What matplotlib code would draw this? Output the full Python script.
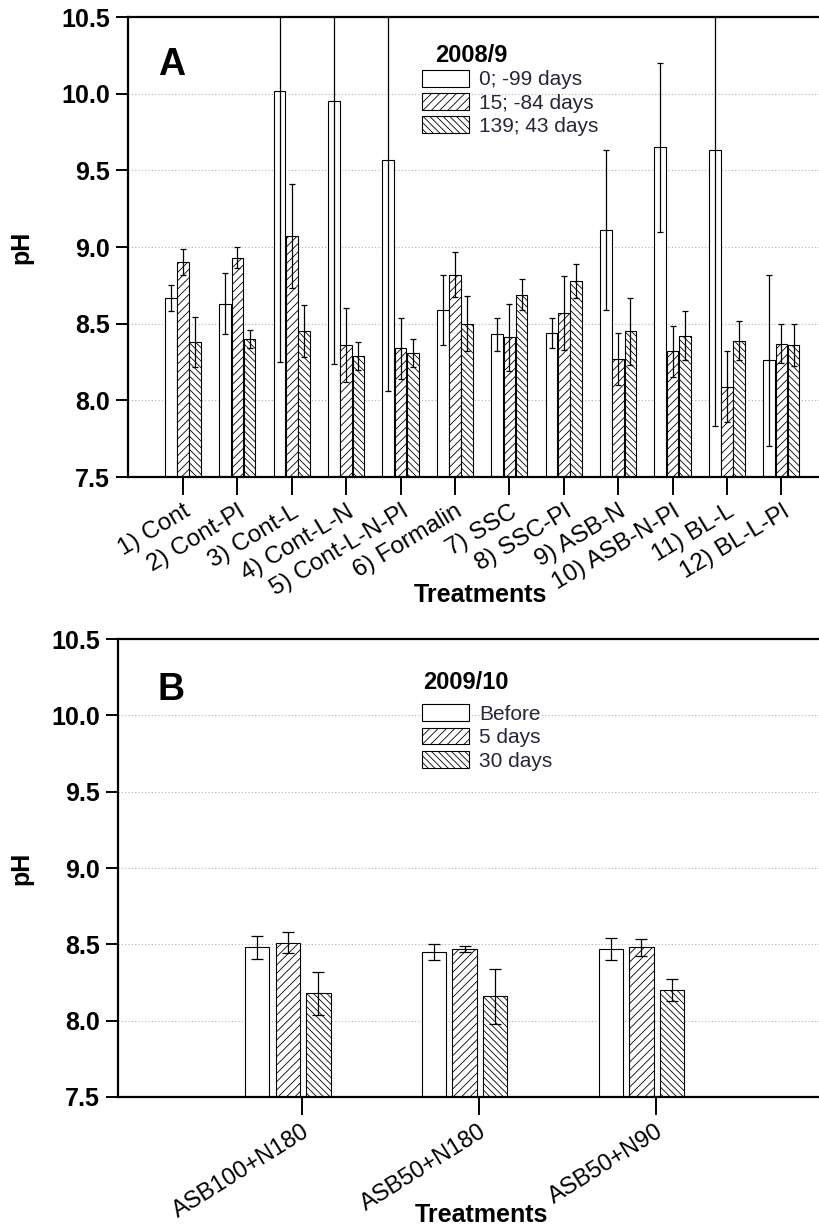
import numpy as np
import matplotlib
matplotlib.use('Agg')
import matplotlib.pyplot as plt
from matplotlib.patches import Patch

plt.rcParams['font.family'] = ['Liberation Sans', 'DejaVu Sans']
plt.rcParams['hatch.linewidth'] = 0.6

# panel A data (2008/9)
treat_a = ['1) Cont', '2) Cont-Pl', '3) Cont-L', '4) Cont-L-N', '5) Cont-L-N-Pl', '6) Formalin',
           '7) SSC', '8) SSC-Pl', '9) ASB-N', '10) ASB-N-Pl', '11) BL-L', '12) BL-L-Pl']
ph_0 = [8.67, 8.63, 10.02, 9.95, 9.57, 8.59, 8.43, 8.44, 9.11, 9.65, 9.63, 8.26]
err_0 = [0.085, 0.20, 1.77, 1.71, 1.51, 0.23, 0.11, 0.10, 0.52, 0.55, 1.80, 0.56]
ph_15 = [8.90, 8.93, 9.07, 8.36, 8.34, 8.82, 8.41, 8.57, 8.27, 8.32, 8.09, 8.37]
err_15 = [0.085, 0.07, 0.34, 0.24, 0.20, 0.145, 0.22, 0.24, 0.17, 0.165, 0.23, 0.125]
ph_139 = [8.38, 8.40, 8.45, 8.29, 8.31, 8.50, 8.69, 8.78, 8.45, 8.42, 8.39, 8.36]
err_139 = [0.165, 0.06, 0.17, 0.09, 0.09, 0.18, 0.10, 0.11, 0.22, 0.16, 0.13, 0.135]
labels_a = ['0; -99 days', '15; -84 days', '139; 43 days']

# panel B data (2009/10)
treat_b = ['ASB100+N180', 'ASB50+N180', 'ASB50+N90']
ph_before = [8.48, 8.45, 8.47]
err_before = [0.074, 0.05, 0.07]
ph_5 = [8.51, 8.47, 8.48]
err_5 = [0.07, 0.02, 0.057]
ph_30 = [8.18, 8.16, 8.20]
err_30 = [0.14, 0.18, 0.07]
labels_b = ['Before', '5 days', '30 days']

hatches = ['', '////', '\\\\\\\\\\']

fig = plt.figure(figsize=(8.2, 12.27), dpi=100)
ax1 = fig.add_axes([128/820, 1 - 477/1227, 692/820, 460/1227])
ax2 = fig.add_axes([118/820, 1 - 1097/1227, 702/820, 458/1227])


def style_axes(ax):
    ax.set_ylim(7.5, 10.5)
    ax.set_yticks([7.5, 8.0, 8.5, 9.0, 9.5, 10.0, 10.5])
    ax.set_yticklabels(['%.1f' % v for v in [7.5, 8.0, 8.5, 9.0, 9.5, 10.0, 10.5]],
                       fontweight='bold', fontsize=18)
    ax.spines['right'].set_visible(False)
    for s in ['left', 'top', 'bottom']:
        ax.spines[s].set_linewidth(1.6)
    ax.tick_params(axis='y', direction='out', length=9, width=1.4, pad=4)
    ax.tick_params(axis='x', direction='out', length=13, width=1.4, pad=4)
    ax.set_axisbelow(True)
    for g in [8.0, 8.5, 9.0, 9.5, 10.0]:
        ax.axhline(g, color='#b0b0b0', linestyle=(0, (1, 2)), linewidth=0.8, zorder=0)
    ax.set_ylabel('pH', fontsize=18, fontweight='bold')
    ax.set_xlabel('Treatments', fontsize=18, fontweight='bold')


# panel A
x = np.arange(len(treat_a))
w = 0.215
series = [(ph_0, err_0), (ph_15, err_15), (ph_139, err_139)]
for i, (vals, errs) in enumerate(series):
    pos = x + (i - 1) * 0.225
    ax1.bar(pos, vals, w, color='white', edgecolor='black', linewidth=0.8,
            hatch=hatches[i], zorder=2)
    ax1.errorbar(pos, vals, yerr=errs, fmt='none', ecolor='black', elinewidth=0.9,
                 capsize=2.5, capthick=0.9, zorder=3)
ax1.set_xlim(-1.01, 11.71)
ax1.set_xticks(x)
ax1.set_xticklabels(treat_a, rotation=31, ha='right', rotation_mode='anchor', fontsize=17.5)
style_axes(ax1)
ax1.xaxis.set_label_coords(0.509, -0.23)
ax1.yaxis.set_label_coords(-0.137, 0.5)
ax1.text(0.0434, 0.874, 'A', transform=ax1.transAxes, fontsize=27, fontweight='bold')
ax1.text(0.444, 0.917, '2008/9', transform=ax1.transAxes, fontsize=17, fontweight='bold',
         va='center')
handles = [Patch(facecolor='white', edgecolor='black', hatch=h, linewidth=0.8) for h in hatches]
ax1.legend(handles, labels_a, loc='upper left', bbox_to_anchor=(0.425, 0.885), frameon=False,
           fontsize=15, handlelength=2.25, handleheight=0.85, handletextpad=0.5,
           labelspacing=0.18, borderpad=0, borderaxespad=0, labelcolor='#2a2438')

# panel B
xb = np.arange(len(treat_b))
wb = 0.138
series_b = [(ph_before, err_before), (ph_5, err_5), (ph_30, err_30)]
for i, (vals, errs) in enumerate(series_b):
    pos = xb - 0.08 + (i - 1) * 0.173
    ax2.bar(pos, vals, wb, color='white', edgecolor='black', linewidth=0.8,
            hatch=hatches[i], zorder=2)
    ax2.errorbar(pos, vals, yerr=errs, fmt='none', ecolor='black', elinewidth=0.9,
                 capsize=4.5, capthick=0.9, zorder=3)
ax2.set_xlim(-1.04, 2.93)
ax2.set_xticks(xb)
ax2.set_xticklabels(treat_b, rotation=32, ha='right', rotation_mode='anchor', fontsize=17)
style_axes(ax2)
ax2.xaxis.set_label_coords(0.518, -0.231)
ax2.yaxis.set_label_coords(-0.121, 0.5)
ax2.text(0.0556, 0.867, 'B', transform=ax2.transAxes, fontsize=27, fontweight='bold')
ax2.text(0.4345, 0.904, '2009/10', transform=ax2.transAxes, fontsize=17, fontweight='bold',
         va='center')
ax2.legend(handles, labels_b, loc='upper left', bbox_to_anchor=(0.433, 0.857), frameon=False,
           fontsize=15, handlelength=2.25, handleheight=0.85, handletextpad=0.5,
           labelspacing=0.18, borderpad=0, borderaxespad=0, labelcolor='#2a2438')

fig.savefig('out.png', dpi=100)
